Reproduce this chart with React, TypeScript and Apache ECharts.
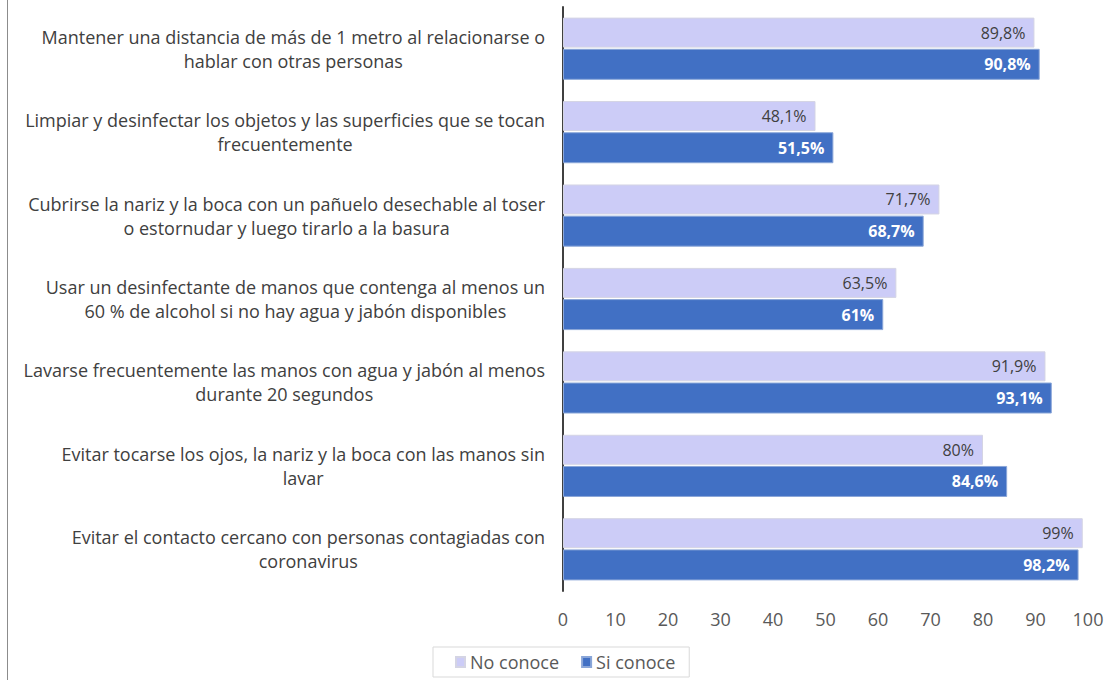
import React, { useEffect, useRef } from "react";
import * as echarts from "echarts";

const categories: string[][] = [
  ["Mantener una distancia de más de 1 metro al relacionarse o", "hablar con otras personas"],
  ["Limpiar y desinfectar los objetos y las superficies que se tocan", "frecuentemente"],
  ["Cubrirse la nariz y la boca con un pañuelo desechable al toser", "o estornudar y luego tirarlo a la basura"],
  ["Usar un desinfectante de manos que contenga al menos un", "60 % de alcohol si no hay agua y jabón disponibles"],
  ["Lavarse frecuentemente las manos con agua y jabón al menos", "durante 20 segundos"],
  ["Evitar tocarse los ojos, la nariz y la boca con las manos sin", "lavar"],
  ["Evitar el contacto cercano con personas contagiadas con", "coronavirus"],
];
const noConoce = [89.8, 48.1, 71.7, 63.5, 91.9, 80, 99];
const siConoce = [90.8, 51.5, 68.7, 61, 93.1, 84.6, 98.2];
const xTicks = { min: 0, max: 100, interval: 10 };

const fmt = (v: number) => String(v).replace(".", ",") + "%";
const FONT = "'Open Sans', sans-serif";

export default function App() {
  const ref = useRef<HTMLDivElement>(null);
  useEffect(() => {
    if (!ref.current) return;
    const chart = echarts.init(ref.current, undefined, { renderer: "svg" });
    const catKeys = categories.map((c) => c.join("\n"));
    chart.setOption({
      animation: false,
      textStyle: { fontFamily: FONT },
      grid: { left: 563, right: 27, top: 7, bottom: 89, containLabel: false },
      legend: {
        bottom: 3,
        left: 433,
        data: ["No conoce", "Si conoce"],
        itemWidth: 9,
        itemHeight: 10,
        itemGap: 22,
        borderColor: "#d9d9d9",
        borderWidth: 1,
        padding: [6, 14, 6, 22],
        textStyle: { fontSize: 18, color: "#595959", fontFamily: FONT },
        icon: "rect",
      },
      xAxis: {
        type: "value",
        min: xTicks.min,
        max: xTicks.max,
        interval: xTicks.interval,
        axisLine: { show: false },
        axisTick: { show: false },
        splitLine: { show: false },
        axisLabel: { fontSize: 18, color: "#595959", margin: 19, fontFamily: FONT },
      },
      yAxis: {
        type: "category",
        inverse: true,
        data: catKeys,
        axisTick: { show: false },
        axisLine: { show: true, lineStyle: { color: "#404040", width: 2 } },
        axisLabel: {
          margin: 18,
          align: "right",
          formatter: (v: string) =>
            v
              .split("\n")
              .map((l) => "{c|" + l + "}")
              .join("\n"),
          rich: {
            c: { align: "center", fontSize: 18, color: "#404040", fontFamily: FONT, lineHeight: 24 },
          },
        },
      },
      series: [
        {
          name: "No conoce",
          type: "bar",
          data: noConoce,
          barWidth: 30,
          barGap: "4%",
          itemStyle: { color: "#ccccf7", borderColor: "#d4d4e4", borderWidth: 1 },
          label: {
            show: true,
            position: "insideRight",
            formatter: (p: any) => fmt(p.value),
            color: "#404040",
            fontSize: 16,
            fontFamily: FONT,
            distance: 9,
          },
        },
        {
          name: "Si conoce",
          type: "bar",
          data: siConoce,
          barWidth: 31,
          itemStyle: { color: "#4170c4", borderColor: "#8aa6d8", borderWidth: 1 },
          label: {
            show: true,
            position: "insideRight",
            formatter: (p: any) => fmt(p.value),
            color: "#ffffff",
            fontWeight: "bold",
            fontSize: 16,
            fontFamily: FONT,
            distance: 9,
          },
        },
      ],
      graphic: [
        {
          type: "line",
          shape: { x1: 7.5, y1: 0, x2: 7.5, y2: 680 },
          style: { stroke: "#8c8c8c", lineWidth: 1 },
        },
      ],
    });
    return () => chart.dispose();
  }, []);
  return (
    <div
      ref={ref}
      style={{ position: "fixed", left: 0, top: 0, width: 1115, height: 680, background: "#fff" }}
    />
  );
}
